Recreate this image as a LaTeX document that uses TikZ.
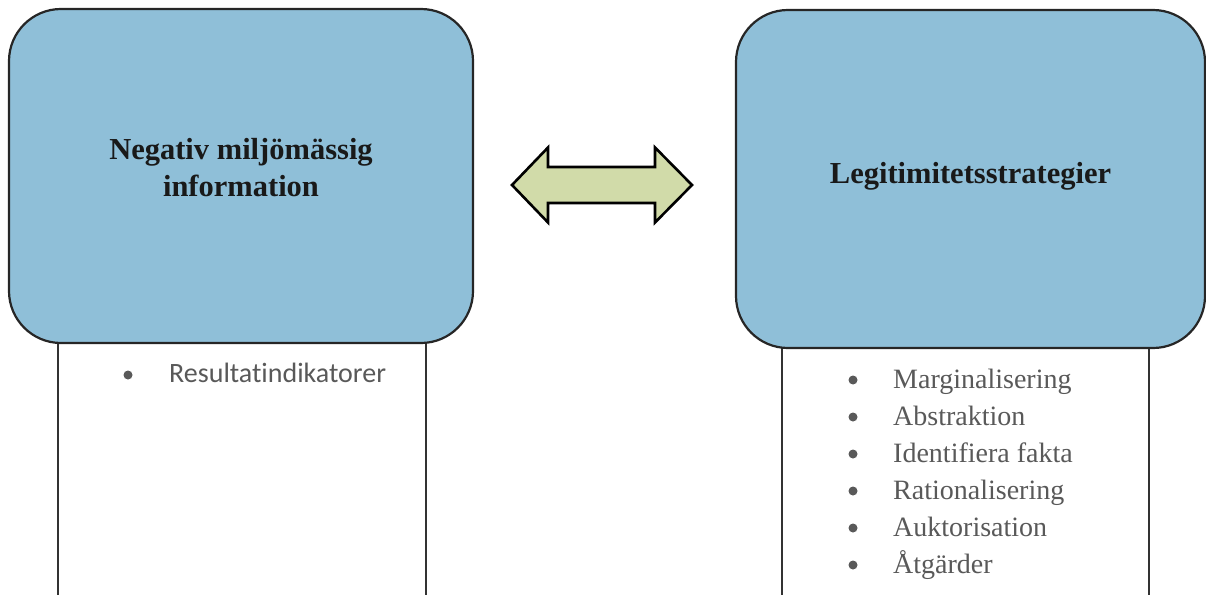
\documentclass[tikz,border=0pt]{standalone}
\usepackage{fontspec}
\setmainfont{Liberation Serif}
\newfontfamily\calibrifont[Ligatures=NoCommon]{Carlito}
\usetikzlibrary{positioning}
\definecolor{boxblue}{HTML}{8FBFD8}
\definecolor{arrowgreen}{HTML}{D1DBA9}
\definecolor{listgray}{HTML}{595959}
\tikzset{
  topbox/.style={draw=black!85, line width=2.2pt, fill=boxblue, rounded corners=52pt, inner sep=0pt},
  titletext/.style={align=center, font=\fontsize{30.5}{37}\selectfont\bfseries, text=black!90, inner sep=0pt},
  listbox/.style={draw=black!80, line width=1.3pt, fill=white},
  bullet/.style={circle, fill=listgray, minimum size=9pt, inner sep=0pt},
  itemtext/.style={anchor=base west, text=listgray, inner sep=0pt}
}
\begin{document}
\begin{tikzpicture}[x=1pt,y=-1pt]
    \useasboundingbox (0,0) rectangle (1206,594);
    \clip (0,0) rectangle (1206,594);
    % white list boxes behind the blue boxes
    \draw[listbox] (58,320) rectangle (426,610);
    \draw[listbox] (782,320) rectangle (1149,610);
    % blue boxes
    \node[topbox, minimum width=464pt, minimum height=334pt] (negbox) at (241,176) {};
    \node[topbox, minimum width=469pt, minimum height=338pt] (legbox) at (970.5,179) {};
    \node[titletext] (negtitle) at ([yshift=8pt]negbox.center) {Negativ miljömässig\\information};
    \node[titletext] (legtitle) at ([yshift=3pt]legbox.center) {Legitimitetsstrategier};
    % double arrow between the boxes
    \draw[fill=arrowgreen, line width=2.6pt, line join=miter]
        (512,185) -- (548,147.5) -- (548,167) -- (655,167) -- (655,147.5) -- (692,185)
        -- (655,222.5) -- (655,203) -- (548,203) -- (548,222.5) -- cycle;
    % left list
    \node[bullet] (negdot) at (128,375) {};
    \node[itemtext, font=\calibrifont\fontsize{28}{34}\selectfont] (negitem) at (169,382.5) {Resultatindikatorer};
    % right list
    \foreach \txt [count=\i] in {Marginalisering,Abstraktion,Identifiera fakta,Rationalisering,Auktorisation,Åtgärder}{
        \node[bullet] (legdot\i) at (853,{380+37*(\i-1)}) {};
        \node[itemtext, font=\fontsize{28}{34}\selectfont] (legitem\i) at (893,{388+37*(\i-1)}) {\txt};
    }
\end{tikzpicture}
\end{document}
